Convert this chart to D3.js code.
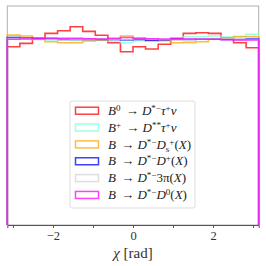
<!DOCTYPE html>
<html>
<head>
<meta charset="utf-8">
<script src="https://cdn.jsdelivr.net/npm/d3@7"></script>
<style>
  body { margin: 0; background: #fff; }
  svg { display: block; }
  text { font-family: "Liberation Serif", "DejaVu Serif", serif; }
</style>
</head>
<body>
<svg id="chart" width="266" height="266"></svg>
<script>
// 20 bins in chi from -pi to pi, normalised histograms
const nBins = 20;
const xTicks = [-3, -2, -1, 0, 1, 2, 3];
const xTickLabels = ['', '\u22122', '', '0', '', '2', ''];

const labels = [
  'B^{0} → D^{*−}τ^{+}ν',
  'B^{+} → D^{**}τ^{+}ν',
  'B → D^{*−}D_{s}^{+}(X)',
  'B → D^{*−}D^{+}(X)',
  'B → D^{*−}3π(X)',
  'B → D^{*−}D^{0}(X)'
];
const colors = ['#ff0000', '#7fffd4', '#ffa500', '#0000ff', '#d3d3d3', '#ff00ff'];

const sigTau = [0.1526, 0.1555, 0.1603, 0.1641, 0.1663, 0.1697, 0.1658, 0.1624, 0.1561, 0.1483,
                0.1526, 0.1507, 0.1547, 0.1598, 0.1641, 0.1646, 0.1641, 0.1598, 0.1561, 0.1518];
const dssTau = [0.1607, 0.1598, 0.1592, 0.1584, 0.1584, 0.1581, 0.1584, 0.1581, 0.1575, 0.1561,
                0.1578, 0.1590, 0.1584, 0.1590, 0.1612, 0.1612, 0.1618, 0.1609, 0.1615, 0.1632];
const dsX = [0.1626, 0.1618, 0.1603, 0.1569, 0.1561, 0.1561, 0.1575, 0.1584, 0.1590, 0.1618,
             0.1598, 0.1584, 0.1578, 0.1561, 0.1564, 0.1569, 0.1590, 0.1603, 0.1612, 0.1612];
const dplusX = [0.1605, 0.1601, 0.1592, 0.1592, 0.1588, 0.1588, 0.1588, 0.1588, 0.1588, 0.1584,
                0.1588, 0.1579, 0.1584, 0.1588, 0.1588, 0.1592, 0.1592, 0.1588, 0.1588, 0.1592];
const threePiX = [0.1597, 0.1595, 0.1588, 0.1588, 0.1584, 0.1586, 0.1588, 0.1592, 0.1591, 0.1588,
                  0.1595, 0.1592, 0.1588, 0.1584, 0.1587, 0.1591, 0.1592, 0.1595, 0.1588, 0.1586];
const dzeroX = [0.1590, 0.1592, 0.1596, 0.1601, 0.1598, 0.1598, 0.1595, 0.1592, 0.1598, 0.1605,
                0.1598, 0.1595, 0.1592, 0.1595, 0.1592, 0.1590, 0.1590, 0.1586, 0.1584, 0.1584];

const series = [sigTau, dssTau, dsX, dplusX, threePiX, dzeroX];

const margin = { top: 6, right: 7.3, bottom: 41, left: 7.3 };
const width = 266, height = 266;

const x = d3.scaleLinear().domain([-Math.PI, Math.PI]).range([margin.left, width - margin.right]);
const y = d3.scaleLinear().domain([0, 0.1875]).range([height - margin.bottom, margin.top]);

const svg = d3.select('#chart');
svg.append('rect').attr('width', width).attr('height', height).attr('fill', '#fff');

const edges = d3.range(nBins + 1).map(i => -Math.PI + i * 2 * Math.PI / nBins);

// step outline like histtype='step'
const stepPath = vals => {
  const pts = [[edges[0], 0]];
  vals.forEach((v, i) => { pts.push([edges[i], v]); pts.push([edges[i + 1], v]); });
  pts.push([edges[nBins], 0]);
  return d3.line().x(d => x(d[0])).y(d => y(d[1]))(pts);
};

// frame
svg.append('rect')
  .attr('x', x(-Math.PI)).attr('y', margin.top)
  .attr('width', x(Math.PI) - x(-Math.PI)).attr('height', y(0) - margin.top)
  .attr('fill', 'none').attr('stroke', '#b0b0b0').attr('stroke-width', 1);

series.forEach((vals, i) => {
  svg.append('path')
    .attr('d', stepPath(vals))
    .attr('fill', 'none')
    .attr('stroke', colors[i])
    .attr('stroke-opacity', 0.75)
    .attr('stroke-width', 1.6);
});

// x axis
const xAxis = d3.axisBottom(x).tickValues(xTicks).tickSize(3)
  .tickFormat((d, i) => xTickLabels[i]);
const gx = svg.append('g').attr('transform', `translate(0,${y(0)})`).call(xAxis);
gx.select('.domain').attr('stroke', '#555');
gx.selectAll('.tick line').attr('stroke', '#555');
gx.selectAll('.tick text').attr('font-size', 12.5).attr('fill', '#333').attr('dy', '0.7em')
  .style('font-family', '"Liberation Serif", serif');

svg.append('text')
  .attr('x', (x(-Math.PI) + x(Math.PI)) / 2).attr('y', 257.5)
  .attr('text-anchor', 'middle').attr('font-size', 15).attr('fill', '#333')
  .call(t => {
    t.append('tspan').attr('font-style', 'italic').text('χ');
    t.append('tspan').text(' [rad]');
  });

// legend
const legend = svg.append('g');
legend.append('rect')
  .attr('x', 70).attr('y', 101).attr('width', 125).attr('height', 107)
  .attr('rx', 2).attr('fill', '#fff').attr('stroke', '#ddd').attr('stroke-width', 1);

// tiny markup: ^{..} superscript, _{..} subscript, single letters italic
const writeLabel = (textSel, str) => {
  const re = /(\^\{[^}]*\}|_\{[^}]*\}|[A-Za-zπτν]|→|[^\^_A-Za-zπτν→]+)/g;
  let m;
  while ((m = re.exec(str)) !== null) {
    const tok = m[0];
    if (tok[0] === '^' || tok[0] === '_') {
      textSel.append('tspan')
        .attr('font-size', 9)
        .attr('baseline-shift', tok[0] === '^' ? '45%' : '-28%')
        .text(tok.slice(2, -1));
    } else if (tok === '→') {
      textSel.append('tspan').attr('dx', 2).text('→');
      textSel.append('tspan').attr('dx', 2).text('');
    } else if (tok.length === 1 && /[A-Za-zτν]/.test(tok)) {
      textSel.append('tspan').attr('font-style', 'italic').text(tok);
    } else {
      textSel.append('tspan').text(tok);
    }
  }
};

labels.forEach((lab, i) => {
  const cy = 110.7 + i * 16.85;
  legend.append('rect')
    .attr('x', 75.5).attr('y', cy - 3.5).attr('width', 23).attr('height', 7)
    .attr('fill', 'none').attr('stroke', colors[i]).attr('stroke-opacity', 0.75).attr('stroke-width', 1.5);
  const t = legend.append('text')
    .attr('x', 108).attr('y', cy + 4.2).attr('font-size', 13).attr('fill', '#222');
  writeLabel(t, lab);
});
</script>
</body>
</html>
